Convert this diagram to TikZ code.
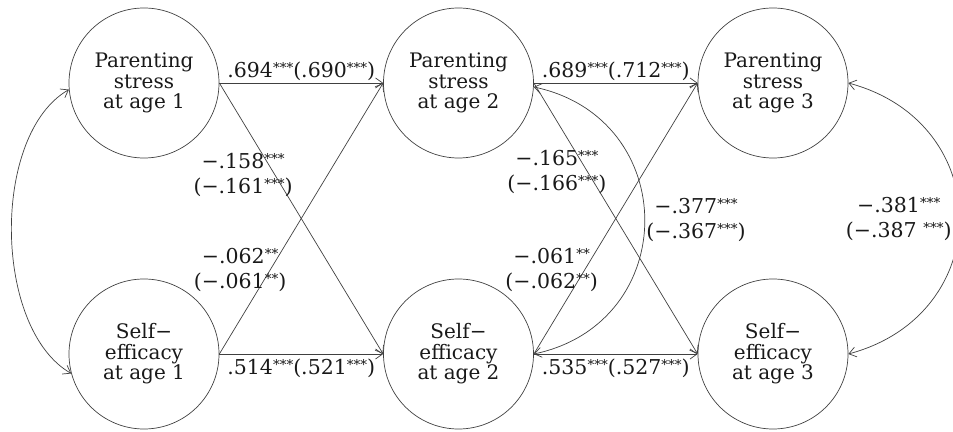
\documentclass[tikz,border=0pt]{standalone}
\usepackage{fontspec}
\setmainfont{DejaVu Serif}
\usetikzlibrary{arrows.meta, positioning}
\tikzstyle{latent} = [circle, draw=black!75, text=black!90, line width=0.7pt, minimum size=150pt, inner sep=0pt, align=center, font=\fontsize{20}{20.5}\selectfont]
\tikzstyle{coef} = [text=black!90, align=center, inner sep=1.5pt, font=\fontsize{20.5}{25}\selectfont]
\tikzstyle{arrow} = [draw=black!75, line width=0.7pt, -{Straight Barb[length=7pt,width=10pt]}]
\tikzstyle{corr} = [draw=black!75, line width=0.7pt, {Straight Barb[length=7pt,width=10pt]}-{Straight Barb[length=7pt,width=10pt]}]
\newcommand{\sigmark}[1]{\raisebox{5pt}{\fontsize{13.5}{13.5}\selectfont #1}}

\begin{document}
\begin{tikzpicture}[x=1pt, y=1pt, node distance=314.5pt]
    \useasboundingbox (0,0) rectangle (953,431);
    % Nodes
    \node (ps1) [latent] at (144,348) {Parenting\\stress\\at age 1};
    \node (ps2) [latent, right of=ps1] {Parenting\\stress\\at age 2};
    \node (ps3) [latent, right of=ps2] {Parenting\\stress\\at age 3};
    \node (se1) [latent, below of=ps1, yshift=43.5pt] {Self−\\efficacy\\at age 1};
    \node (se2) [latent, right of=se1] {Self−\\efficacy\\at age 2};
    \node (se3) [latent, right of=se2] {Self−\\efficacy\\at age 3};

    % Arrows
    \draw [arrow] (ps1) -- node[coef, above] {.694\sigmark{***}(.690\sigmark{***})} (ps2);
    \draw [arrow] (se1) -- node[coef, below, yshift=-3pt] {.514\sigmark{***}(.521\sigmark{***})} (se2);
    \draw [arrow] (ps1.east) -- node[coef, pos=0.34, xshift=-32pt] {−.158\sigmark{***}\\(−.161\sigmark{***})} (se2.west);
    \draw [arrow] (se1.east) -- node[coef, pos=0.31, xshift=-30pt] {−.062\sigmark{**}\\(−.061\sigmark{**})} (ps2.west);
    \draw [arrow] (ps2) -- node[coef, above] {.689\sigmark{***}(.712\sigmark{***})} (ps3);
    \draw [arrow] (se2) -- node[coef, below, yshift=-3pt] {.535\sigmark{***}(.527\sigmark{***})} (se3);
    \draw [arrow] (ps2.east) -- node[coef, pos=0.33, xshift=-31pt] {−.165\sigmark{***}\\(−.166\sigmark{***})} (se3.west);
    \draw [arrow] (se2.east) -- node[coef, pos=0.31, xshift=-33pt] {−.061\sigmark{**}\\(−.062\sigmark{**})} (ps3.west);

    % Correlations
    \draw [corr] (ps1.185) to[out=210, in=150, looseness=0.81] (se1.195);
    \draw [corr] (ps2.357) to[out=-12, in=12, looseness=1.45] node[coef, right] {−.377\sigmark{***}\\(−.367\sigmark{***})} (se2.east);
    \draw [corr] (ps3.east) to[out=-15, in=15, looseness=1.45] node[coef, left, xshift=-6pt] {−.381\sigmark{***}\\(−.387 \sigmark{***})} (se3.east);
\end{tikzpicture}
\end{document}
